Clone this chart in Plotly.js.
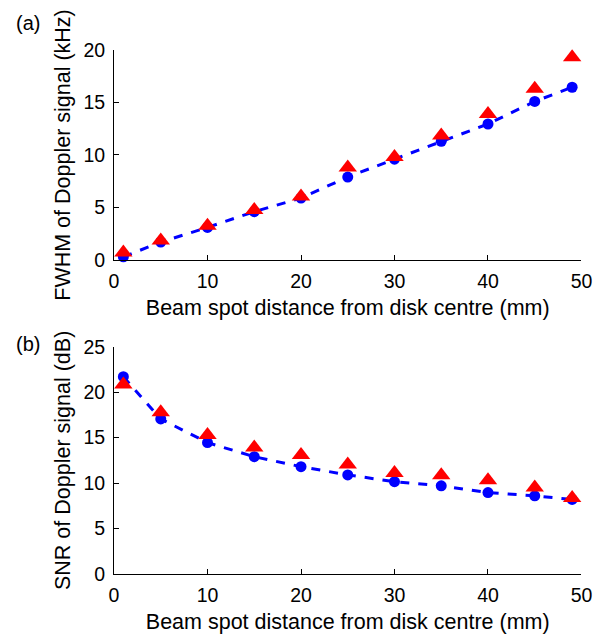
<!DOCTYPE html>
<html><head><meta charset="utf-8">
<script src="https://cdn.plot.ly/plotly-3.0.1.min.js"></script>
<style>html,body{margin:0;padding:0;background:#fff}</style>
</head><body>
<div id="chart" style="width:595px;height:635px"></div>
<script>
const distance = [1, 5, 10, 15, 20, 25, 30, 35, 40, 45, 49];
const fwhmCircle = [0.3, 1.7, 3.1, 4.6, 5.9, 7.9, 9.6, 11.3, 12.95, 15.1, 16.45];
const fwhmTriangle = [0.7, 1.85, 3.25, 4.75, 6.05, 8.8, 9.8, 11.85, 13.9, 16.3, 19.3];
const snrCircle = [21.7, 17.05, 14.45, 12.9, 11.8, 10.9, 10.15, 9.7, 8.95, 8.6, 8.2];
const snrTriangle = [20.85, 17.8, 15.3, 13.9, 13.1, 12.05, 11.1, 10.85, 10.3, 9.5, 8.35];

const xTicks = [0, 10, 20, 30, 40, 50];
const yTicksA = [0, 5, 10, 15, 20];
const yTicksB = [0, 5, 10, 15, 20, 25];

const xLabel = 'Beam spot distance from disk centre (mm)';
const yLabelA = 'FWHM of Doppler signal (kHz)';
const yLabelB = 'SNR of Doppler signal (dB)';

const FONT = 'Liberation Sans, Arial, sans-serif';
const lineSpec = {color: '#0000ff', width: 3, dash: 'dash'};
const circle = {symbol: 'circle', size: 11, color: '#0000ff'};
const tri = {symbol: 'triangle-up', size: 16, color: '#ff0000'};

const traces = [
  {x: distance, y: fwhmCircle, mode: 'lines+markers', line: lineSpec, marker: circle, xaxis: 'x', yaxis: 'y', cliponaxis: false},
  {x: distance, y: fwhmTriangle, mode: 'markers', marker: tri, xaxis: 'x', yaxis: 'y', cliponaxis: false},
  {x: distance, y: snrCircle, mode: 'lines+markers', line: lineSpec, marker: circle, xaxis: 'x2', yaxis: 'y2', cliponaxis: false},
  {x: distance, y: snrTriangle, mode: 'markers', marker: tri, xaxis: 'x2', yaxis: 'y2', cliponaxis: false}
];

const TICKFONT = {family: FONT, size: 19.5, color: '#000'};
const TITLEFONT = {family: FONT, size: 21.5, color: '#000'};

function xax(anchor) {
  return {domain: [0.1916, 0.9773], range: [0, 50], anchor: anchor, tickvals: xTicks,
    ticks: 'inside', ticklen: 5, tickcolor: '#000', showline: true, linecolor: '#000', linewidth: 1,
    showgrid: false, zeroline: false, tickfont: TICKFONT, ticklabelstandoff: 4,
    title: {text: xLabel, font: TITLEFONT, standoff: 8}};
}
function yax(anchor, domain, range, ticks, label) {
  return {domain: domain, range: range, anchor: anchor, tickvals: ticks,
    ticks: 'inside', ticklen: 5, tickcolor: '#000', showline: true, linecolor: '#000', linewidth: 1,
    showgrid: false, zeroline: false, tickfont: TICKFONT, ticklabelstandoff: 4,
    title: {text: label, font: TITLEFONT, standoff: 6}};
}

const layout = {
  width: 595, height: 635, margin: {l: 0, r: 0, t: 0, b: 0},
  paper_bgcolor: '#fff', plot_bgcolor: '#fff', showlegend: false,
  xaxis: xax('y'),
  yaxis: yax('x', [0.5906, 0.9213], [0, 20], yTicksA, yLabelA),
  xaxis2: xax('y2'),
  yaxis2: yax('x2', [0.0961, 0.454], [0, 25], yTicksB, yLabelB),
  annotations: [
    {text: '(a)', x: 14, y: 23.5, xref: 'paper', yref: 'paper', showarrow: false, font: {family: FONT, size: 20, color: '#000'}},
    {text: '(b)', x: 14, y: 343.5, xref: 'paper', yref: 'paper', showarrow: false, font: {family: FONT, size: 20, color: '#000'}}
  ]
};
// convert annotation pixel positions to paper coords
layout.annotations.forEach(a => { a.x = a.x / 595; a.y = 1 - a.y / 635; a.xanchor = 'left'; a.yanchor = 'middle'; });

Plotly.newPlot('chart', traces, layout, {staticPlot: true});
</script>
</body></html>
